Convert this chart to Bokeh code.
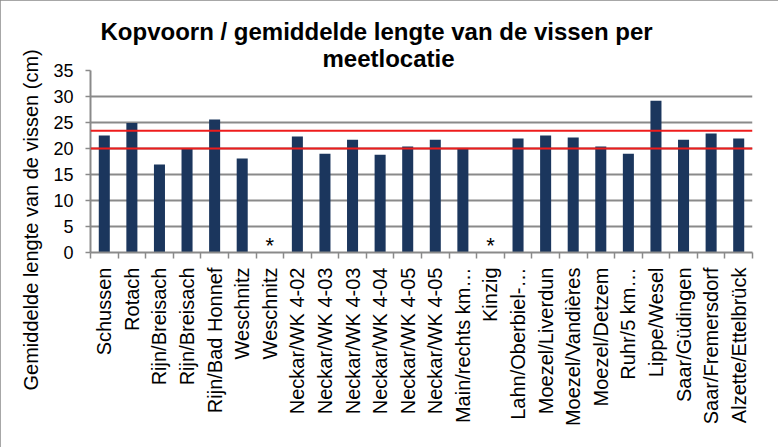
import math
from bokeh.plotting import figure
from bokeh.models import Range1d, FixedTicker, Span, Title, ColumnDataSource
from bokeh.core.properties import value
from bokeh.embed import file_html
from bokeh.resources import INLINE

# ---------------- data ----------------
title_lines = ["Kopvoorn / gemiddelde lengte van de vissen per", "meetlocatie"]
y_label = "Gemiddelde lengte van de vissen (cm)"
locations = [
    "Schussen", "Rotach", "Rijn/Breisach", "Rijn/Breisach", "Rijn/Bad Honnef",
    "Weschnitz", "Weschnitz", "Neckar/WK 4-02", "Neckar/WK 4-03", "Neckar/WK 4-03",
    "Neckar/WK 4-04", "Neckar/WK 4-05", "Neckar/WK 4-05", "Main/rechts km\u2026",
    "Kinzig", "Lahn/Oberbiel-\u2026", "Moezel/Liverdun", "Moezel/Vandi\u00e8res",
    "Moezel/Detzem", "Ruhr/5 km\u2026", "Lippe/Wesel", "Saar/G\u00fcdingen",
    "Saar/Fremersdorf", "Alzette/Ettelbr\u00fcck",
]
lengths = [
    22.5, 24.9, 16.9, 19.9, 25.6,
    18.1, None, 22.3, 19.0, 21.7,
    18.8, 20.4, 21.7, 20.0,
    None, 21.9, 22.5, 22.1,
    20.4, 19.0, 29.2, 21.7,
    22.9, 21.9,
]
missing_mark = "*"
reference_lines = [20.0, 23.4]
y_ticks = [0, 5, 10, 15, 20, 25, 30, 35]

# ---------------- styles ----------------
FONT = "Liberation Sans"
GREY = "#8a8a8a"
BAR = "#1b365d"
RED = "#ee1c1c"

n = len(locations)
W, H = 778, 447
F_LEFT, F_RIGHT, F_TOP, F_BOTTOM = 90, 752, 70, 252

p = figure(
    width=W, height=H, output_backend="svg", toolbar_location=None,
    x_range=Range1d(-0.5, n - 0.5), y_range=Range1d(0, 35),
    min_border_left=F_LEFT, min_border_right=W - F_RIGHT,
    min_border_top=F_TOP, min_border_bottom=H - F_BOTTOM,
)
p.title = None
p.styles = {"outline": "2px solid " + GREY, "outline-offset": "-2px"}
p.outline_line_color = None
p.background_fill_color = "white"
p.border_fill_color = "white"

# bars
xs = [i for i, v in enumerate(lengths) if v is not None]
tops = [v for v in lengths if v is not None]
src = ColumnDataSource(dict(x=xs, top=tops))
p.vbar(x="x", top="top", width=0.4, bottom=0, source=src,
       fill_color=BAR, line_color=None)

# missing markers
mx = [i for i, v in enumerate(lengths) if v is None]
p.text(x=mx, y=[0] * len(mx), text=[missing_mark] * len(mx),
       text_font=value(FONT), text_font_size="22px", text_color="black",
       text_align="center", text_baseline="alphabetic", y_offset=-7)

# reference lines
for r in reference_lines:
    p.add_layout(Span(location=r, dimension="width", line_color=RED, line_width=2))

# x axis
xa = p.xaxis[0]
xa.ticker = FixedTicker(ticks=list(range(n)), minor_ticks=[i - 0.5 for i in range(n + 1)])
xa.major_label_overrides = {i: name for i, name in enumerate(locations)}
xa.major_label_orientation = math.pi / 2
xa.major_tick_line_color = None
xa.major_tick_out = 0
xa.major_tick_in = 0
xa.minor_tick_line_color = GREY
xa.minor_tick_line_width = 1.5
xa.minor_tick_out = 6
xa.minor_tick_in = 0
xa.major_label_standoff = 9
xa.major_label_text_font = FONT
xa.major_label_text_font_size = "20px"
xa.major_label_text_color = "black"
xa.axis_line_color = GREY
xa.axis_line_width = 2

# y axis
ya = p.yaxis[0]
ya.ticker = FixedTicker(ticks=y_ticks, minor_ticks=[])
ya.major_tick_line_color = GREY
ya.major_tick_line_width = 1.5
ya.major_tick_out = 5
ya.major_tick_in = 0
ya.minor_tick_line_color = None
ya.major_label_standoff = 12
ya.major_label_text_font = FONT
ya.major_label_text_font_size = "18px"
ya.major_label_text_color = "black"
ya.axis_line_color = GREY
ya.axis_line_width = 2

p.xgrid.grid_line_color = None
p.ygrid.ticker = FixedTicker(ticks=y_ticks)
p.ygrid.grid_line_color = GREY
p.ygrid.grid_line_width = 2

# y label as a left-side title, starting below the frame like the reference
p.add_layout(Title(text=y_label, align="left", offset=-138, standoff=18,
                   text_font=FONT, text_font_size="20px", text_font_style="normal",
                   text_color="black"), "left")

# title lines (first added sits nearest the frame)
p.add_layout(Title(text=title_lines[1], align="left", offset=232, standoff=-3,
                   text_font=FONT, text_font_size="24px", text_font_style="bold",
                   text_color="black"), "above")
p.add_layout(Title(text=title_lines[0], align="left", offset=10, standoff=0,
                   text_font=FONT, text_font_size="24px", text_font_style="bold",
                   text_color="black"), "above")

open("out.html", "w").write(file_html(p, INLINE))
